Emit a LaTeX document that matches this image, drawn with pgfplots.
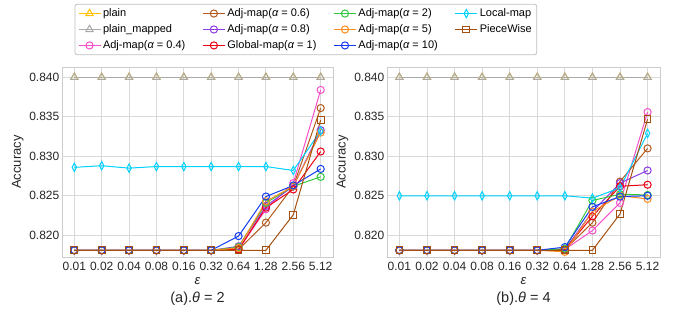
\documentclass[border=0pt]{standalone}
\usepackage{fontspec}
\setmainfont{Liberation Sans}
\usepackage{pgfplots}
\usepackage{pgfplotstable}
\pgfplotsset{compat=1.18}

\definecolor{cplain}{RGB}{255,192,0}
\definecolor{cpm}{RGB}{170,170,170}
\definecolor{ca04}{RGB}{245,80,200}
\definecolor{ca06}{RGB}{180,90,30}
\definecolor{ca08}{RGB}{140,60,230}
\definecolor{cglob}{RGB}{235,0,20}
\definecolor{ca2}{RGB}{50,200,60}
\definecolor{ca5}{RGB}{255,140,30}
\definecolor{ca10}{RGB}{20,60,240}
\definecolor{cloc}{RGB}{0,210,255}
\definecolor{cpw}{RGB}{165,80,15}

\pgfplotstableread{
x plain pm a04 a06 a08 glob a2 a5 a10 loc pw
0 0.840 0.840 0.8181 0.8181 0.8181 0.8181 0.8181 0.8181 0.8181 0.8286 0.8181
1 0.840 0.840 0.8181 0.8181 0.8181 0.8181 0.8181 0.8181 0.8181 0.8288 0.8181
2 0.840 0.840 0.8181 0.8181 0.8181 0.8181 0.8181 0.8181 0.8181 0.8285 0.8181
3 0.840 0.840 0.8181 0.8181 0.8181 0.8181 0.8181 0.8181 0.8181 0.8287 0.8181
4 0.840 0.840 0.8181 0.8181 0.8181 0.8181 0.8181 0.8181 0.8181 0.8287 0.8181
5 0.840 0.840 0.8181 0.8181 0.8181 0.8181 0.8181 0.8181 0.8181 0.8287 0.8181
6 0.840 0.840 0.8182 0.8182 0.8186 0.8182 0.8185 0.8184 0.8199 0.8287 0.8181
7 0.840 0.840 0.8233 0.8216 0.8237 0.8235 0.8241 0.8243 0.8249 0.8287 0.8181
8 0.840 0.840 0.8266 0.8262 0.8262 0.8258 0.8262 0.8262 0.8263 0.8282 0.8226
9 0.840 0.840 0.8384 0.8361 0.8333 0.8306 0.8274 0.8330 0.8284 0.8332 0.8346
}\dataA

\pgfplotstableread{
x plain pm a04 a06 a08 glob a2 a5 a10 loc pw
0 0.840 0.840 0.8181 0.8181 0.8181 0.8181 0.8181 0.8181 0.8181 0.8250 0.8181
1 0.840 0.840 0.8181 0.8181 0.8181 0.8181 0.8181 0.8181 0.8181 0.8250 0.8181
2 0.840 0.840 0.8181 0.8181 0.8181 0.8181 0.8181 0.8181 0.8181 0.8250 0.8181
3 0.840 0.840 0.8181 0.8181 0.8181 0.8181 0.8181 0.8181 0.8181 0.8250 0.8181
4 0.840 0.840 0.8181 0.8181 0.8181 0.8181 0.8181 0.8181 0.8181 0.8250 0.8181
5 0.840 0.840 0.8181 0.8181 0.8181 0.8181 0.8181 0.8181 0.8181 0.8250 0.8181
6 0.840 0.840 0.8182 0.8182 0.8182 0.8182 0.8183 0.8179 0.8185 0.8250 0.8181
7 0.840 0.840 0.8206 0.8216 0.8230 0.8224 0.8244 0.8230 0.8236 0.8247 0.8181
8 0.840 0.840 0.8241 0.8268 0.8266 0.8262 0.8252 0.8250 0.8249 0.8260 0.8227
9 0.840 0.840 0.8356 0.8310 0.8282 0.8264 0.8251 0.8246 0.8250 0.8329 0.8347
}\dataB

\pgfplotsset{
  sPlain/.style={color=cplain, line width=1bp, mark=triangle, mark size=4.2bp, mark options={solid}},
  sPm/.style={color=cpm, line width=1bp, mark=triangle, mark size=4.2bp, mark options={solid}},
  sA04/.style={color=ca04, line width=1bp, mark=o, mark size=3.6bp},
  sA06/.style={color=ca06, line width=1bp, mark=o, mark size=3.6bp},
  sA08/.style={color=ca08, line width=1bp, mark=o, mark size=3.6bp},
  sGlob/.style={color=cglob, line width=1bp, mark=o, mark size=3.6bp},
  sA2/.style={color=ca2, line width=1bp, mark=o, mark size=3.6bp},
  sA5/.style={color=ca5, line width=1bp, mark=o, mark size=3.6bp},
  sA10/.style={color=ca10, line width=1bp, mark=o, mark size=3.6bp},
  sLoc/.style={color=cloc, line width=1bp, mark=diamond, mark size=4.2bp, mark options={xscale=0.7}},
  sPw/.style={color=cpw, line width=1bp, mark=square, mark size=3.4bp},
  myaxis/.style={
    scale only axis, width=271bp, height=190bp,
    xmin=-0.45, xmax=9.45, ymin=0.81725, ymax=0.8413,
    xtick={0,...,9},
    xticklabels={0.01,0.02,0.04,0.08,0.16,0.32,0.64,1.28,2.56,5.12},
    ytick={0.820,0.825,0.830,0.835,0.840},
    yticklabel style={/pgf/number format/fixed, /pgf/number format/precision=3, /pgf/number format/zerofill, /pgf/number format/assume math mode=true, xshift=-2.5bp},
    xticklabel style={/pgf/number format/assume math mode=true, yshift=-4.5bp},
    tick label style={font=\fontsize{12bp}{14bp}\selectfont, text=black!85, inner sep=0pt},
    major tick length=0pt,
    grid=major, major grid style={draw=black!15, line width=0.9bp},
    axis line style={draw=black!20, line width=0.9bp},
    label style={font=\fontsize{13bp}{15bp}\selectfont, text=black!85},
    xlabel={\itshape ε}, ylabel={Accuracy},
    xlabel style={at={(axis description cs:0.5,-0.128)}, anchor=center},
    ylabel style={at={(axis description cs:-0.163,0.5)}, anchor=center},
    clip=false,
  },
}

\newcommand\plotall[1]{%
  \addplot[sPlain, forget plot] table[x=x,y=plain]{#1};
  \addplot[sPm, forget plot] table[x=x,y=pm]{#1};
  \addplot[sA04, forget plot] table[x=x,y=a04]{#1};
  \addplot[sA06, forget plot] table[x=x,y=a06]{#1};
  \addplot[sA08, forget plot] table[x=x,y=a08]{#1};
  \addplot[sGlob, forget plot] table[x=x,y=glob]{#1};
  \addplot[sA2, forget plot] table[x=x,y=a2]{#1};
  \addplot[sA5, forget plot] table[x=x,y=a5]{#1};
  \addplot[sA10, forget plot] table[x=x,y=a10]{#1};
  \addplot[sLoc, forget plot] table[x=x,y=loc]{#1};
  \addplot[sPw, forget plot] table[x=x,y=pw]{#1};
}

\begin{document}
\begin{tikzpicture}
\path[use as bounding box] (0,0) rectangle (681bp,320bp);

\begin{axis}[myaxis, at={(62bp,63bp)}, anchor=south west,
  legend columns=4,
  legend cell align=left,
  legend image code/.code={\draw[mark repeat=2,mark phase=2] plot coordinates {(0bp,0bp)(11bp,0bp)(22bp,0bp)};},
  legend style={at={(0.900,1.332)}, anchor=north, font=\fontsize{11bp}{13bp}\selectfont,
    draw=black!25, rounded corners=2bp, fill=white, line width=0.8bp,
    inner xsep=3bp, inner ysep=2.5bp, row sep=2.5bp,
    /tikz/every even column/.append style={column sep=15bp}},
]
\plotall{\dataA}
\addlegendimage{sPlain}\addlegendentry{plain}
\addlegendimage{sA06}\addlegendentry{Adj-map({\itshape α} = 0.6)}
\addlegendimage{sA2}\addlegendentry{Adj-map({\itshape α} = 2)}
\addlegendimage{sLoc}\addlegendentry{Local-map}
\addlegendimage{sPm}\addlegendentry{plain\_mapped}
\addlegendimage{sA08}\addlegendentry{Adj-map({\itshape α} = 0.8)}
\addlegendimage{sA5}\addlegendentry{Adj-map({\itshape α} = 5)}
\addlegendimage{sPw}\addlegendentry{PieceWise}
\addlegendimage{sA04}\addlegendentry{Adj-map({\itshape α} = 0.4)}
\addlegendimage{sGlob}\addlegendentry{Global-map({\itshape α} = 1)}
\addlegendimage{sA10}\addlegendentry{Adj-map({\itshape α} = 10)}
\node[font=\fontsize{14.5bp}{17bp}\selectfont, text=black!85] at (rel axis cs:0.5,-0.218) {(a).{\itshape θ} = 2};
\end{axis}

\begin{axis}[myaxis, at={(387bp,63bp)}, anchor=south west, width=273bp]
\plotall{\dataB}
\node[font=\fontsize{14.5bp}{17bp}\selectfont, text=black!85] at (rel axis cs:0.5,-0.218) {(b).{\itshape θ} = 4};
\end{axis}
\end{tikzpicture}
\end{document}
